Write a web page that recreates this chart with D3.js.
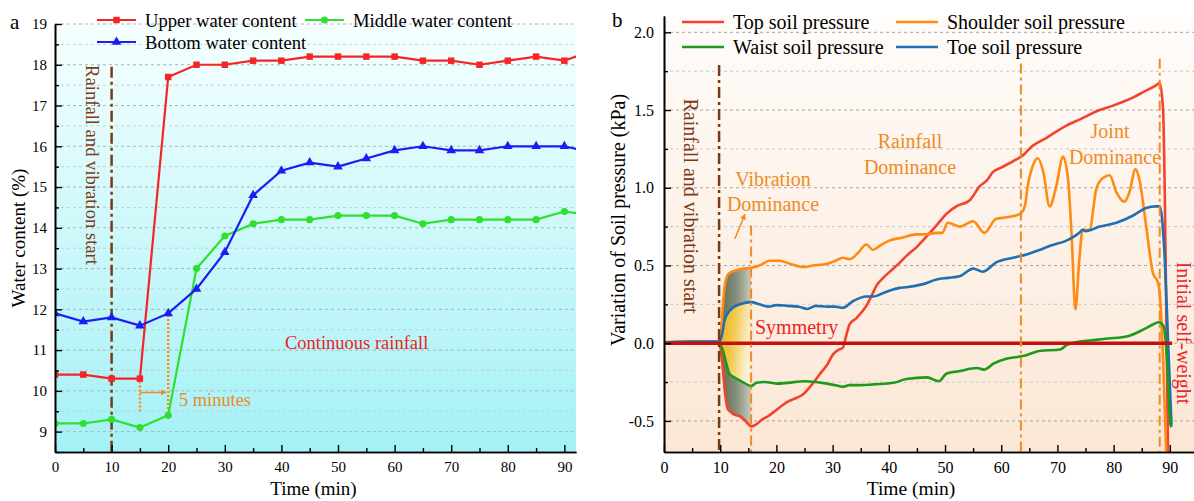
<!DOCTYPE html>
<html><head><meta charset="utf-8">
<script src="https://cdn.jsdelivr.net/npm/d3@7"></script>
<style>
html,body{margin:0;padding:0;background:#fff;}
svg{display:block;font-family:"Liberation Serif","Times New Roman",serif;}
</style></head>
<body><svg id="c" width="1194" height="501"></svg>
<script>
// ---------- Panel a data ----------
const timeA = [0,5,10,15,20,25,30,35,40,45,50,55,60,65,70,75,80,85,90,95];
const upperWater  = [10.4,10.4,10.3,10.3,17.7,18.0,18.0,18.1,18.1,18.2,18.2,18.2,18.2,18.1,18.1,18.0,18.1,18.2,18.1,18.35];
const middleWater = [9.2,9.2,9.3,9.1,9.4,13.0,13.8,14.1,14.2,14.2,14.3,14.3,14.3,14.1,14.2,14.2,14.2,14.2,14.4,14.3];
const bottomWater = [11.9,11.7,11.8,11.6,11.9,12.5,13.4,14.8,15.4,15.6,15.5,15.7,15.9,16.0,15.9,15.9,16.0,16.0,16.0,15.85];
const ticksAX = [0,10,20,30,40,50,60,70,80,90];
const ticksAY = [9,10,11,12,13,14,15,16,17,18,19];

// ---------- Panel b data ----------
const timeTop = [0,5,9.8,10.3,10.8,11.3,11.8,12.5,13.5,14.5,15.5,16.5,17.5,18.5,20,21.8,23,24.7,26,27.7,29,30.1,31.2,31.8,32.4,33,34.2,36,37,37.8,39,40.5,42,43.1,45,47.3,49,50.2,52,54.4,56.2,57.5,58.5,60,62.1,63.9,65.6,68,71.6,74,77.5,80,83.4,85.5,87.6,88.2,88.8,89.1,89.4,89.7];
const topPressure = [0,0,0,-0.1,-0.3,-0.42,-0.44,-0.46,-0.47,-0.5,-0.535,-0.52,-0.49,-0.47,-0.43,-0.38,-0.36,-0.33,-0.28,-0.2,-0.14,-0.07,-0.04,-0.03,0.045,0.12,0.16,0.24,0.31,0.37,0.42,0.47,0.52,0.56,0.62,0.71,0.78,0.83,0.88,0.92,1.01,1.05,1.1,1.13,1.17,1.21,1.27,1.32,1.40,1.44,1.50,1.53,1.58,1.62,1.66,1.675,1.5,0.97,0.11,-0.75];

const timeShoulder = [0,5,9.8,10.2,10.6,11.1,11.6,12.9,14,15.5,17,18.8,20.6,22.5,24.7,26.5,28.9,30.5,31.8,33,34.5,36,37.2,38.5,40.1,42.5,44.9,46.5,48.5,49.5,50.5,52.6,55,57,59.1,61,63.3,64.2,64.7,65.6,66.5,67.5,68.6,69.8,71,71.9,72.5,73.2,73.9,74.5,75.7,76.9,77.5,79.3,80.5,81.9,82.8,83.9,84.6,85.8,87,87.9,88.2,88.8,89.4];
const shoulderPressure = [0.005,0.01,0.01,0.1,0.3,0.42,0.45,0.47,0.48,0.485,0.5,0.53,0.53,0.51,0.49,0.5,0.51,0.53,0.55,0.54,0.58,0.635,0.6,0.63,0.66,0.68,0.70,0.70,0.71,0.71,0.775,0.75,0.785,0.71,0.80,0.81,0.83,0.88,1.01,1.14,1.19,1.1,0.88,1.01,1.20,1.05,0.71,0.217,0.54,0.73,0.73,0.99,1.04,1.08,0.97,0.91,0.97,1.12,1.05,0.75,0.45,0.39,0.32,-0.1,-0.75];

const timeToe = [0,5,9.8,10.3,10.8,11.5,12.3,13.5,15.5,17,18.5,20,22,24,25.5,27,29,30.5,31.8,33.6,36,37.2,39.5,41.9,43.1,46.1,48.5,50.5,52.6,55,56.7,59.1,62.1,64.5,66.8,69,71.6,73.9,74.5,75,77.5,80.5,83.4,85.8,87.5,88.2,89.1,89.7,90.3];
const toePressure = [0.005,0.01,0.01,0.05,0.15,0.2,0.23,0.25,0.264,0.25,0.235,0.245,0.24,0.235,0.22,0.24,0.235,0.235,0.228,0.27,0.30,0.30,0.33,0.356,0.36,0.38,0.41,0.42,0.43,0.48,0.46,0.52,0.55,0.57,0.60,0.63,0.66,0.71,0.73,0.72,0.75,0.775,0.82,0.87,0.88,0.88,0.54,0.0,-0.53];

const timeWaist = [0,5,9.8,10.5,11,11.7,12.5,14,15.5,16.5,18,20,22,25,27,29,30.5,31.8,33,35,37.2,40.9,43.1,46.8,48.9,50.3,52.5,55.7,56.9,58.7,60.9,63.9,66.8,70.5,71.7,74,76.4,79,82.5,85.4,87,88,88.9,89.5,90.1,90.3];
const waistPressure = [0,0,0,-0.05,-0.12,-0.2,-0.22,-0.25,-0.275,-0.255,-0.25,-0.26,-0.255,-0.245,-0.25,-0.26,-0.27,-0.28,-0.27,-0.27,-0.265,-0.255,-0.23,-0.22,-0.245,-0.195,-0.18,-0.16,-0.17,-0.13,-0.10,-0.083,-0.05,-0.04,-0.01,0.01,0.02,0.03,0.045,0.09,0.12,0.135,0.11,-0.105,-0.52,-0.54];

const ticksBX = [0,10,20,30,40,50,60,70,80,90];
const ticksBY = [-0.5,0,0.5,1.0,1.5,2.0];
const eventTimesB = [15.5,63.5,88.2];

// ---------- drawing ----------
const svg = d3.select("#c");
const defs = svg.append("defs");
const serif = '"Liberation Serif","Times New Roman",serif';

function grad(id, stops, x2, y2){
  const g = defs.append("linearGradient").attr("id",id)
    .attr("x1","0").attr("y1","0").attr("x2",x2).attr("y2",y2);
  stops.forEach(s=>g.append("stop").attr("offset",s[0]).attr("stop-color",s[1]));
}
grad("bgA",[[0,"#f6ffff"],[1,"#a3f1f6"]],"0","1");
grad("bgB",[[0,"#fffcfa"],[1,"#fbe7d5"]],"0","1");
grad("shadeOut",[[0,"#5d6a50"],[0.55,"#87907a"],[1,"#c9cbbb"]],"1","0");
grad("shadeIn",[[0,"#e8b31e"],[0.5,"#f2c948"],[1,"#fbf0d6"]],"1","0.3");

defs.append("marker").attr("id","arrO").attr("viewBox","0 0 10 10").attr("refX",9).attr("refY",5)
  .attr("markerWidth",4).attr("markerHeight",4).attr("orient","auto")
  .append("path").attr("d","M0,0L10,5L0,10z").attr("fill","#f08a24");

// ======= Panel A =======
const A = {l:55,r:576,t:24,b:452};
const xA = d3.scaleLinear().domain([0,92.05]).range([A.l,A.r]);
const yA = d3.scaleLinear().domain([8.5,19]).range([A.b,A.t]);

const gA = svg.append("g");
gA.append("rect").attr("x",A.l).attr("y",A.t).attr("width",A.r-A.l).attr("height",A.b-A.t).attr("fill","url(#bgA)");
d3.range(9,19.01,0.5).forEach(v=>{
  gA.append("line").attr("x1",A.l).attr("x2",A.r).attr("y1",yA(v)).attr("y2",yA(v))
    .attr("stroke", Number.isInteger(v)?"#a9b4b6":"#c4cfd0").attr("stroke-width",1).attr("stroke-dasharray","3,3");
});
defs.append("clipPath").attr("id","clipA").append("rect").attr("x",A.l).attr("y",A.t-8).attr("width",A.r-A.l).attr("height",A.b-A.t+8);

gA.append("line").attr("x1",xA(10)).attr("x2",xA(10)).attr("y1",yA(17.95)).attr("y2",A.b)
  .attr("stroke","#7a3b12").attr("stroke-width",2.5).attr("stroke-dasharray","11,4,3,4");
gA.append("text").attr("transform",`translate(${xA(10)-19},${165}) rotate(90)`)
  .attr("text-anchor","middle").attr("dominant-baseline","central").attr("font-size",18.6).attr("fill","#7a3b12")
  .text("Rainfall and vibration start");

gA.append("line").attr("x1",xA(15)).attr("x2",xA(15)).attr("y1",yA(10.23)).attr("y2",yA(9.49))
  .attr("stroke","#ff8c1a").attr("stroke-width",2.5).attr("stroke-dasharray","2,2");
gA.append("line").attr("x1",xA(20)).attr("x2",xA(20)).attr("y1",yA(11.86)).attr("y2",yA(9.45))
  .attr("stroke","#ff8c1a").attr("stroke-width",2.5).attr("stroke-dasharray","2,2");
gA.append("line").attr("x1",xA(15)).attr("x2",xA(19.6)).attr("y1",yA(9.96)).attr("y2",yA(9.96))
  .attr("stroke","#f08a24").attr("stroke-width",1.5).attr("marker-end","url(#arrO)");
gA.append("text").attr("x",179).attr("y",yA(9.96)+8).attr("dominant-baseline","central")
  .attr("font-size",18.4).attr("fill","#f08a24").text("5 minutes");
gA.append("text").attr("x",285).attr("y",343).attr("dominant-baseline","central")
  .attr("font-size",18.5).attr("fill","#ee1c1c").text("Continuous rainfall");

const seriesA = [
  {name:"Upper water content", vals:upperWater, color:"#f52525", shape:"square"},
  {name:"Middle water content", vals:middleWater, color:"#2fe02f", shape:"circle"},
  {name:"Bottom water content", vals:bottomWater, color:"#1c1cf5", shape:"triangle"}
];
const symMap = {square:d3.symbolSquare, circle:d3.symbolCircle, triangle:d3.symbolTriangle};
const symSize = {square:42, circle:40, triangle:40};
const lineA = d3.line().x(d=>xA(d[0])).y(d=>yA(d[1]));
const plotA = gA.append("g").attr("clip-path","url(#clipA)");
seriesA.forEach(s=>{
  const pts = timeA.map((t,i)=>[t,s.vals[i]]);
  plotA.append("path").attr("d",lineA(pts)).attr("fill","none").attr("stroke",s.color).attr("stroke-width",2.2);
  plotA.selectAll(null).data(pts).enter().append("path")
    .attr("transform",d=>`translate(${xA(d[0])},${yA(d[1])})`)
    .attr("d",d3.symbol().type(symMap[s.shape]).size(symSize[s.shape])).attr("fill",s.color);
});

gA.append("g").attr("transform",`translate(0,${A.b})`)
  .call(d3.axisBottom(xA).tickValues(ticksAX).tickSizeInner(-7).tickSizeOuter(0).tickPadding(9));
gA.append("g").attr("transform",`translate(0,${A.b})`)
  .call(d3.axisBottom(xA).tickValues(d3.range(5,92,10)).tickSizeInner(-4).tickSizeOuter(0).tickFormat(""));
gA.append("g").attr("transform",`translate(${A.l},0)`)
  .call(d3.axisLeft(yA).tickValues(ticksAY).tickSizeInner(-7).tickSizeOuter(0).tickPadding(8));
gA.append("g").attr("transform",`translate(${A.l},0)`)
  .call(d3.axisLeft(yA).tickValues(d3.range(8.5,19,1)).tickSizeInner(-4).tickSizeOuter(0).tickFormat(""));
gA.selectAll(".domain").attr("stroke","#000").attr("stroke-width",1.6);
gA.selectAll(".tick line").attr("stroke","#000").attr("stroke-width",1.4);
gA.selectAll(".tick text").attr("font-family",serif).attr("font-size",15).attr("fill","#000");

gA.append("text").attr("x",(A.l+A.r)/2-2).attr("y",488).attr("text-anchor","middle").attr("dominant-baseline","central")
  .attr("font-size",19).text("Time (min)");
gA.append("text").attr("transform",`translate(18,${(A.t+A.b)/2}) rotate(-90)`).attr("text-anchor","middle")
  .attr("dominant-baseline","central").attr("font-size",19).text("Water content (%)");
gA.append("text").attr("x",10).attr("y",22).attr("dominant-baseline","central").attr("font-size",21).text("a");

const legA = [
  {s:seriesA[0], x:97, y:20},
  {s:seriesA[2], x:97, y:42},
  {s:seriesA[1], x:305, y:20}
];
legA.forEach(l=>{
  gA.append("line").attr("x1",l.x).attr("x2",l.x+39).attr("y1",l.y).attr("y2",l.y).attr("stroke",l.s.color).attr("stroke-width",2.2);
  gA.append("path").attr("transform",`translate(${l.x+19.5},${l.y})`)
    .attr("d",d3.symbol().type(symMap[l.s.shape]).size(symSize[l.s.shape])).attr("fill",l.s.color);
  gA.append("text").attr("x",l.x+48).attr("y",l.y).attr("dominant-baseline","central").attr("font-size",18.6).text(l.s.name);
});

// ======= Panel B =======
const B = {l:664,r:1194,t:16,b:452};
const xB = d3.scaleLinear().domain([0,94.3]).range([B.l,B.r]);
const yB = d3.scaleLinear().domain([-0.7,2.105]).range([B.b,B.t]);
const gB = svg.append("g");
gB.append("rect").attr("x",B.l).attr("y",B.t).attr("width",B.r-B.l).attr("height",B.b-B.t).attr("fill","url(#bgB)");
d3.range(-0.5,2.01,0.25).forEach(v=>{
  const major = Math.abs(v*2-Math.round(v*2))<1e-6;
  gB.append("line").attr("x1",B.l).attr("x2",B.r).attr("y1",yB(v)).attr("y2",yB(v))
    .attr("stroke", major?"#a6a6a6":"#c9c9c9").attr("stroke-width",1).attr("stroke-dasharray","3,3");
});
defs.append("clipPath").attr("id","clipB").append("rect").attr("x",B.l).attr("y",B.t).attr("width",B.r-B.l).attr("height",B.b-B.t);
const plotB = gB.append("g").attr("clip-path","url(#clipB)");

const seriesB = [
  {name:"Top soil pressure", t:timeTop, v:topPressure, color:"#f2432d"},
  {name:"Shoulder soil pressure", t:timeShoulder, v:shoulderPressure, color:"#ff8a14"},
  {name:"Waist soil pressure", t:timeWaist, v:waistPressure, color:"#1c9a1c"},
  {name:"Toe soil pressure", t:timeToe, v:toePressure, color:"#1f6fb2"}
];
const ptsOf = s => s.t.map((t,i)=>[t,s.v[i]]);
const win = (s,a,b) => ptsOf(s).filter(p=>p[0]>=a && p[0]<=b);

const poly = d3.line().x(d=>xB(d[0])).y(d=>yB(d[1])).curve(d3.curveLinearClosed);
plotB.append("path").attr("d",poly(win(seriesB[1],9.8,15.5).concat(win(seriesB[0],9.8,15.5).reverse())))
  .attr("fill","url(#shadeOut)");
plotB.append("path").attr("d",poly(win(seriesB[3],9.8,15.5).concat(win(seriesB[2],9.8,15.5).reverse())))
  .attr("fill","url(#shadeIn)");

gB.append("line").attr("x1",xB(9.8)).attr("x2",xB(9.8)).attr("y1",yB(1.79)).attr("y2",B.b)
  .attr("stroke","#7a3b12").attr("stroke-width",2.5).attr("stroke-dasharray","11,4,3,4");
const evTop = [0.757,1.80,1.83];
eventTimesB.forEach((t,i)=>{
  gB.append("line").attr("x1",xB(t)).attr("x2",xB(t)).attr("y1",yB(evTop[i])).attr("y2",B.b)
    .attr("stroke","#f08a24").attr("stroke-width",2).attr("stroke-dasharray","10,4,3,4");
});

const lineB = d3.line().x(d=>xB(d[0])).y(d=>yB(d[1])).curve(d3.curveMonotoneX);
[seriesB[0],seriesB[1],seriesB[3],seriesB[2]].forEach(s=>{
  plotB.append("path").attr("d",lineB(ptsOf(s))).attr("fill","none").attr("stroke",s.color).attr("stroke-width",2.6);
});
plotB.append("line").attr("x1",xB(0)).attr("x2",xB(90.4)).attr("y1",yB(0)).attr("y2",yB(0))
  .attr("stroke","#c80f0f").attr("stroke-width",3.6);

gB.append("text").attr("transform",`translate(${xB(9.8)-28},206) rotate(90)`).attr("text-anchor","middle")
  .attr("dominant-baseline","central").attr("font-size",20).attr("fill","#7a3b12").text("Rainfall and vibration start");
gB.append("text").attr("transform",`translate(1184,333) rotate(90)`).attr("text-anchor","middle")
  .attr("dominant-baseline","central").attr("font-size",20).attr("fill","#e8242a").text("Initial self-weight");
gB.append("text").attr("x",755).attr("y",327).attr("dominant-baseline","central").attr("font-size",20).attr("fill","#ee2222").text("Symmetry");
const orangeTxt = [["Vibration",773,179],["Dominance",773,204],["Rainfall",910,141],["Dominance",910,167],["Joint",1110,131],["Dominance",1115,157]];
orangeTxt.forEach(o=>gB.append("text").attr("x",o[1]).attr("y",o[2]).attr("text-anchor","middle")
  .attr("dominant-baseline","central").attr("font-size",20).attr("fill","#f08a24").text(o[0]));
gB.append("line").attr("x1",xB(12.6)).attr("y1",yB(0.67)).attr("x2",xB(14.4)).attr("y2",yB(0.83))
  .attr("stroke","#f08a24").attr("stroke-width",1.5).attr("marker-end","url(#arrO)");

const fmtB = v => d3.format(".1f")(v).replace("\u2212","-");
gB.append("g").attr("transform",`translate(0,${B.b})`)
  .call(d3.axisBottom(xB).tickValues(ticksBX).tickSizeInner(-7).tickSizeOuter(0).tickPadding(10));
gB.append("g").attr("transform",`translate(0,${B.b})`)
  .call(d3.axisBottom(xB).tickValues(d3.range(5,94,10)).tickSizeInner(-4).tickSizeOuter(0).tickFormat(""));
gB.append("g").attr("transform",`translate(${B.l},0)`)
  .call(d3.axisLeft(yB).tickValues(ticksBY).tickFormat(fmtB).tickSizeInner(-7).tickSizeOuter(0).tickPadding(10));
gB.append("g").attr("transform",`translate(${B.l},0)`)
  .call(d3.axisLeft(yB).tickValues([-0.25,0.25,0.75,1.25,1.75]).tickSizeInner(-4).tickSizeOuter(0).tickFormat(""));
gB.selectAll(".domain").attr("stroke","#000").attr("stroke-width",1.6);
gB.selectAll(".tick line").attr("stroke","#000").attr("stroke-width",1.4);
gB.selectAll(".tick text").attr("font-family",serif).attr("font-size",16).attr("fill","#000");

gB.append("text").attr("x",911).attr("y",488).attr("text-anchor","middle").attr("dominant-baseline","central")
  .attr("font-size",19.5).text("Time (min)");
gB.append("text").attr("transform",`translate(618,220) rotate(-90)`).attr("text-anchor","middle")
  .attr("dominant-baseline","central").attr("font-size",20).text("Variation of Soil pressure (kPa)");
gB.append("text").attr("x",612).attr("y",20).attr("dominant-baseline","central").attr("font-size",21).text("b");

const legB = [
  {s:seriesB[0], x:682, y:22},{s:seriesB[1], x:896, y:22},
  {s:seriesB[2], x:682, y:47},{s:seriesB[3], x:896, y:47}
];
legB.forEach(l=>{
  gB.append("line").attr("x1",l.x).attr("x2",l.x+42).attr("y1",l.y).attr("y2",l.y).attr("stroke",l.s.color).attr("stroke-width",2.6);
  gB.append("text").attr("x",l.x+51).attr("y",l.y).attr("dominant-baseline","central").attr("font-size",20).text(l.s.name);
});
</script></body></html>
